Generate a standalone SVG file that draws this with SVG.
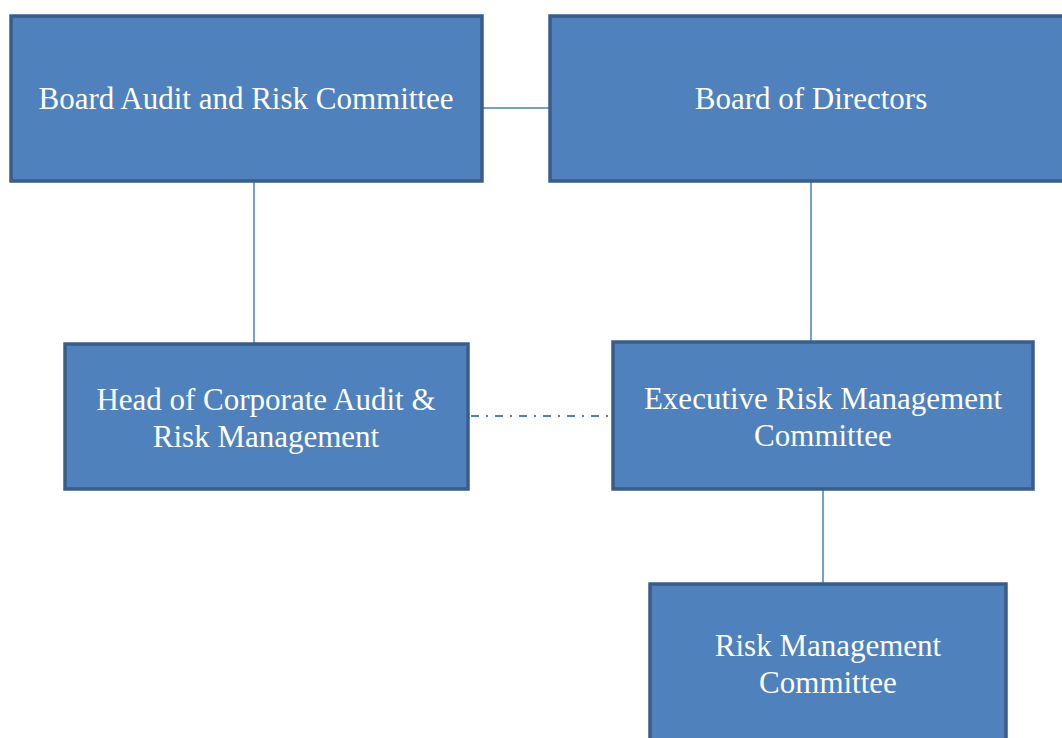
<svg xmlns="http://www.w3.org/2000/svg" width="1062" height="738" viewBox="0 0 1062 738">
<style>
.box{fill:#4f81bd;stroke:#385d8a;stroke-width:3.5}
.lbl{font-family:'Liberation Serif','DejaVu Serif',serif;font-size:31px;fill:#ffffff;text-anchor:middle}
.con{stroke:#4a7ebb;stroke-width:1.5;fill:none}
.dd{stroke:#4f81bd;stroke-width:2;fill:none;stroke-dasharray:8 7 2 7}
</style>
<rect width="1062" height="738" fill="#ffffff"/>
<g id="connectors">
<line class="con" x1="482" y1="108" x2="549" y2="108"/>
<line class="con" x1="254" y1="181" x2="254" y2="343"/>
<line class="con" x1="811" y1="181" x2="811" y2="341"/>
<line class="con" x1="823" y1="490" x2="823" y2="583"/>
<line class="dd" x1="471" y1="416" x2="611" y2="416"/>
</g>
<g id="board-audit">
<rect class="box" x="11" y="16" width="471" height="165"/>
<text class="lbl" x="246" y="109">Board Audit and Risk Committee</text>
</g>
<g id="board-directors">
<rect class="box" x="550" y="16" width="524" height="165"/>
<text class="lbl" x="811" y="109">Board of Directors</text>
</g>
<g id="head-audit">
<rect class="box" x="65" y="344" width="403" height="145"/>
<text class="lbl" x="266" y="410">Head of Corporate Audit &amp;</text>
<text class="lbl" x="266" y="447">Risk Management</text>
</g>
<g id="exec-risk">
<rect class="box" x="613" y="342" width="420" height="147"/>
<text class="lbl" x="823" y="409">Executive Risk Management</text>
<text class="lbl" x="823" y="446">Committee</text>
</g>
<g id="risk-mgmt">
<rect class="box" x="650" y="584" width="356" height="170"/>
<text class="lbl" x="828" y="656">Risk Management</text>
<text class="lbl" x="828" y="693">Committee</text>
</g>
</svg>
